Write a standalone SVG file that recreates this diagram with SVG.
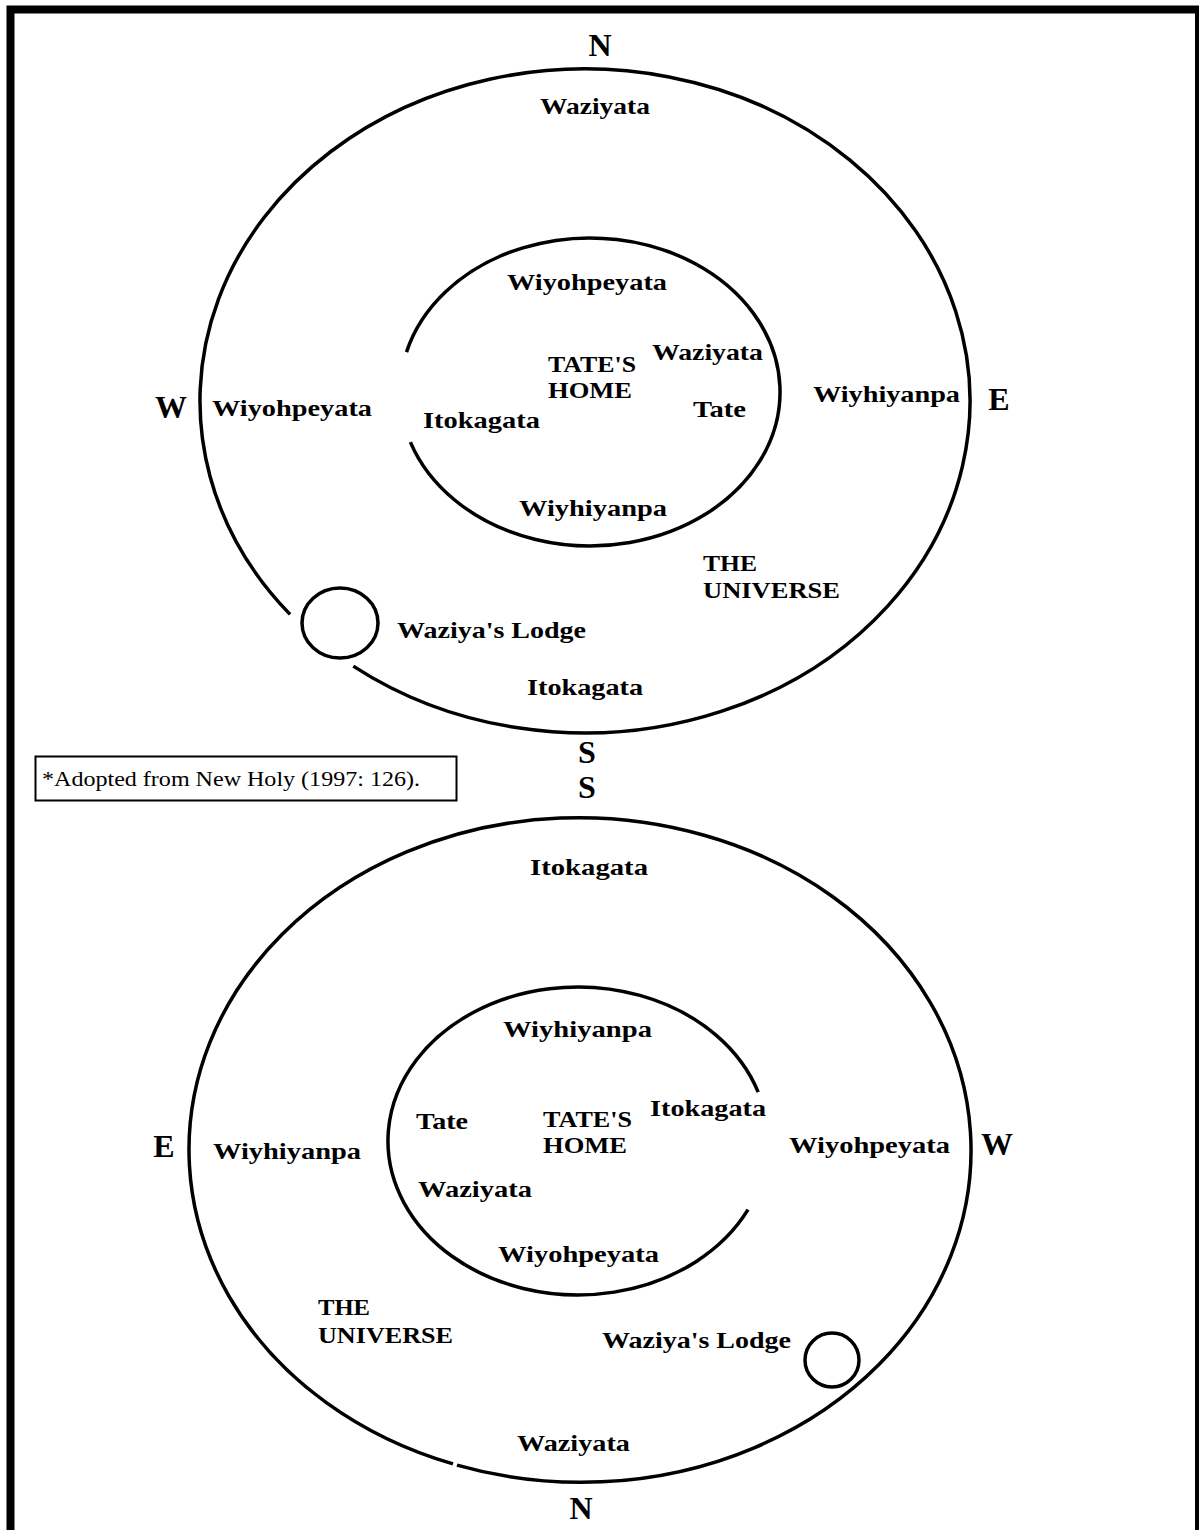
<svg xmlns="http://www.w3.org/2000/svg" width="1199" height="1530" viewBox="0 0 1199 1530">
<style>
.ln{fill:none;stroke:#000;stroke-width:3.5}
.lb{font-family:"Liberation Serif","DejaVu Serif",serif;font-weight:bold;font-size:24px;fill:#000}
.cp{font-family:"Liberation Serif","DejaVu Serif",serif;font-weight:bold;font-size:32px;fill:#000;text-anchor:middle}
.fn{font-family:"Liberation Serif","DejaVu Serif",serif;font-size:21px;fill:#000}
</style>
<rect width="1199" height="1530" fill="#fff"/>
<g id="frame">
<path d="M10.5,1540 V9.5 H1199" fill="none" stroke="#000" stroke-width="8"/>
<path d="M1197,9 V1540" fill="none" stroke="#000" stroke-width="4"/>
</g>
<g id="top-diagram">
<g id="top-outer"><path class="ln" d="M290.1,614.4 A385,332 0 1 1 353.3,666.1"/></g>
<g id="top-inner"><path class="ln" d="M406.5,352.1 A190,154 0 1 1 410.4,442.1"/></g>
<g id="top-lodge"><ellipse class="ln" cx="340" cy="623" rx="38" ry="35"/></g>
<g id="top-labels">
<text class="cp" x="600" y="56">N</text>
<text class="cp" x="171" y="418">W</text>
<text class="cp" x="999" y="410">E</text>
<text class="cp" x="587" y="763">S</text>
<text class="lb" x="540" y="114" textLength="110" lengthAdjust="spacingAndGlyphs">Waziyata</text>
<text class="lb" x="507" y="290" textLength="160" lengthAdjust="spacingAndGlyphs">Wiyohpeyata</text>
<text class="lb" x="548" y="372" textLength="88" lengthAdjust="spacingAndGlyphs">TATE'S</text>
<text class="lb" x="548" y="398" textLength="84" lengthAdjust="spacingAndGlyphs">HOME</text>
<text class="lb" x="652" y="360" textLength="111" lengthAdjust="spacingAndGlyphs">Waziyata</text>
<text class="lb" x="693" y="417" textLength="53" lengthAdjust="spacingAndGlyphs">Tate</text>
<text class="lb" x="423" y="428" textLength="117" lengthAdjust="spacingAndGlyphs">Itokagata</text>
<text class="lb" x="519" y="516" textLength="148" lengthAdjust="spacingAndGlyphs">Wiyhiyanpa</text>
<text class="lb" x="212" y="416" textLength="160" lengthAdjust="spacingAndGlyphs">Wiyohpeyata</text>
<text class="lb" x="813" y="402" textLength="147" lengthAdjust="spacingAndGlyphs">Wiyhiyanpa</text>
<text class="lb" x="703" y="571" textLength="54" lengthAdjust="spacingAndGlyphs">THE</text>
<text class="lb" x="703" y="598" textLength="137" lengthAdjust="spacingAndGlyphs">UNIVERSE</text>
<text class="lb" x="397" y="638" textLength="189" lengthAdjust="spacingAndGlyphs">Waziya's Lodge</text>
<text class="lb" x="527" y="695" textLength="116" lengthAdjust="spacingAndGlyphs">Itokagata</text>
</g>
</g>
<g id="footnote">
<rect x="35.5" y="756.5" width="421" height="44" fill="none" stroke="#000" stroke-width="2"/>
<text class="fn" x="42" y="786" textLength="378" lengthAdjust="spacingAndGlyphs">*Adopted from New Holy (1997: 126).</text>
</g>
<g id="bottom-diagram">
<g id="bottom-outer"><path class="ln" d="M453,1463.9 A390,332 0 0 1 705,835.5 A390,332 0 0 1 457,1465.1"/></g>
<g id="bottom-inner"><path class="ln" d="M748,1209.7 A190,154 0 1 1 758.2,1092.2"/></g>
<g id="bottom-lodge"><circle class="ln" cx="832" cy="1360" r="27"/></g>
<g id="bottom-labels">
<text class="cp" x="587" y="798">S</text>
<text class="cp" x="164" y="1157">E</text>
<text class="cp" x="997" y="1155">W</text>
<text class="cp" x="581" y="1519">N</text>
<text class="lb" x="530" y="875" textLength="118" lengthAdjust="spacingAndGlyphs">Itokagata</text>
<text class="lb" x="503" y="1037" textLength="149" lengthAdjust="spacingAndGlyphs">Wiyhiyanpa</text>
<text class="lb" x="416" y="1129" textLength="52" lengthAdjust="spacingAndGlyphs">Tate</text>
<text class="lb" x="543" y="1127" textLength="89" lengthAdjust="spacingAndGlyphs">TATE'S</text>
<text class="lb" x="543" y="1153" textLength="84" lengthAdjust="spacingAndGlyphs">HOME</text>
<text class="lb" x="650" y="1116" textLength="116" lengthAdjust="spacingAndGlyphs">Itokagata</text>
<text class="lb" x="213" y="1159" textLength="148" lengthAdjust="spacingAndGlyphs">Wiyhiyanpa</text>
<text class="lb" x="789" y="1153" textLength="161" lengthAdjust="spacingAndGlyphs">Wiyohpeyata</text>
<text class="lb" x="418" y="1197" textLength="114" lengthAdjust="spacingAndGlyphs">Waziyata</text>
<text class="lb" x="498" y="1262" textLength="161" lengthAdjust="spacingAndGlyphs">Wiyohpeyata</text>
<text class="lb" x="318" y="1315" textLength="52" lengthAdjust="spacingAndGlyphs">THE</text>
<text class="lb" x="318" y="1343" textLength="135" lengthAdjust="spacingAndGlyphs">UNIVERSE</text>
<text class="lb" x="602" y="1348" textLength="189" lengthAdjust="spacingAndGlyphs">Waziya's Lodge</text>
<text class="lb" x="517" y="1451" textLength="113" lengthAdjust="spacingAndGlyphs">Waziyata</text>
</g>
</g>
</svg>
